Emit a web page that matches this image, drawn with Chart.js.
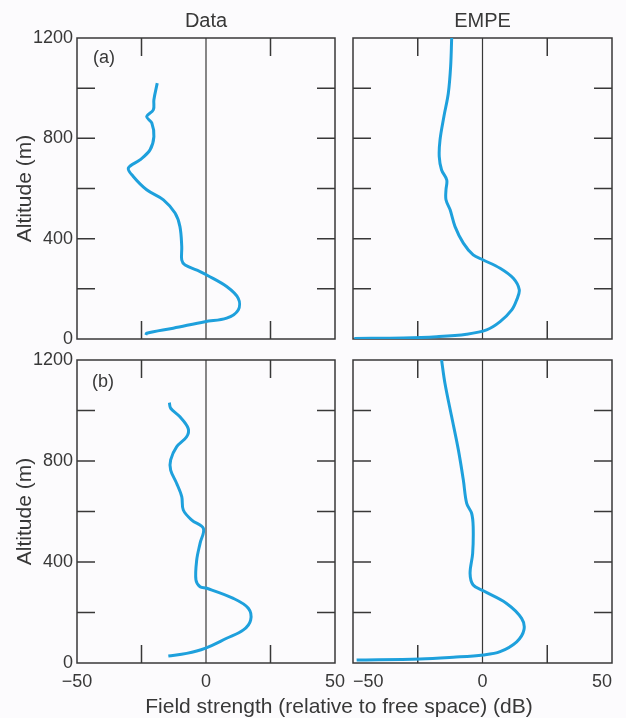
<!DOCTYPE html>
<html>
<head>
<meta charset="utf-8">
<script src="https://cdn.jsdelivr.net/npm/chart.js@4.4.1/dist/chart.umd.min.js"></script>
<style>
  html, body { margin: 0; padding: 0; background: #fcfbfd; }
  #wrap { position: relative; width: 626px; height: 718px; }
  #wrap canvas { position: absolute; left: 0; top: 0; }
</style>
</head>
<body>
<div id="wrap">
  <canvas id="dataA" width="626" height="718"></canvas>
  <canvas id="empeA" width="626" height="718"></canvas>
  <canvas id="dataB" width="626" height="718"></canvas>
  <canvas id="empeB" width="626" height="718"></canvas>
</div>
<script>
// altitude (m) and field strength (dB rel. free space)
const altDataA   = [16, 23, 43, 69, 83, 116, 162, 209, 255, 269, 295, 315, 368, 448, 502, 555, 595, 648, 681, 714, 754, 807, 861, 887, 914, 954, 1020];
const fieldDataA = [-23.3, -23.0, -12.7, -0.4, 8.0, 12.5, 12.5, 8.0, 0.3, -2.3, -8.1, -9.4, -9.4, -10.1, -12.0, -16.5, -23.0, -28.2, -30.1, -25.6, -21.7, -20.2, -21.0, -23.0, -20.4, -20.2, -18.9];

const altEmpeA   = [2, 4, 9, 19, 36, 69, 116, 156, 196, 242, 282, 315, 335, 382, 448, 515, 555, 595, 634, 674, 727, 794, 887, 980, 1087, 1200];
const fieldEmpeA = [-49.5, -30.6, -17.7, -6.1, 1.6, 6.8, 11.3, 13.2, 14.2, 11.9, 6.8, 0.3, -3.6, -7.4, -10.6, -12.5, -14.1, -14.1, -13.8, -15.8, -16.7, -16.4, -14.9, -13.2, -12.3, -11.9];

const altDataB   = [28, 38, 58, 98, 131, 170, 217, 256, 296, 302, 329, 408, 474, 533, 566, 606, 659, 712, 764, 804, 856, 896, 929, 975, 1009, 1031];
const fieldDataB = [-14.6, -7.5, -0.4, 8.0, 14.5, 17.3, 16.4, 10.6, 0.3, -2.3, -3.9, -3.6, -2.3, -1.0, -5.5, -8.8, -9.4, -11.4, -13.7, -13.7, -11.4, -7.5, -6.9, -10.1, -13.7, -14.2];

const altEmpeB   = [12, 16, 23, 32, 45, 84, 131, 177, 236, 286, 309, 355, 434, 540, 593, 632, 725, 843, 975, 1108, 1200];
const fieldEmpeB = [-48.6, -24.1, -11.3, 0.3, 6.8, 13.2, 16.0, 15.1, 9.3, 0.3, -3.6, -4.8, -3.8, -3.6, -4.2, -6.1, -7.4, -9.3, -11.9, -14.5, -15.8];

// inner tick marks
const minorX = [-25, 25];
const minorY = [200, 400, 600, 800, 1000];

const ink = '#383838';
const blue = '#1ea0dc';
const fontFamily = '"Liberation Sans", Arial, sans-serif';

// box, zero line, inward ticks and free text
const frame = {
  id: 'frame',
  beforeDatasetsDraw(chart) {
    const { ctx, chartArea: a, scales: { x, y } } = chart;
    ctx.save();
    ctx.strokeStyle = ink;
    ctx.lineWidth = 1.5;
    ctx.strokeRect(a.left, a.top, a.right - a.left, a.bottom - a.top);
    ctx.beginPath();
    minorX.forEach(v => {
      const px = x.getPixelForValue(v);
      ctx.moveTo(px, a.top); ctx.lineTo(px, a.top + 18);
      ctx.moveTo(px, a.bottom); ctx.lineTo(px, a.bottom - 18);
    });
    minorY.forEach(v => {
      const py = y.getPixelForValue(v);
      ctx.moveTo(a.left, py); ctx.lineTo(a.left + 18, py);
      ctx.moveTo(a.right, py); ctx.lineTo(a.right - 18, py);
    });
    ctx.stroke();
    ctx.lineWidth = 1.2;
    const x0 = x.getPixelForValue(0);
    ctx.beginPath();
    ctx.moveTo(x0, a.top); ctx.lineTo(x0, a.bottom);
    ctx.stroke();
    ctx.restore();
  },
  afterDraw(chart, args, opts) {
    const { ctx, chartArea: a } = chart;
    ctx.save();
    ctx.fillStyle = ink;
    ctx.textBaseline = 'alphabetic';
    (opts.texts || []).forEach(t => {
      ctx.font = t.size + 'px ' + fontFamily;
      ctx.textAlign = t.align;
      ctx.fillText(t.text, t.x(a), t.y(a));
    });
    ctx.restore();
  }
};

function points(xs, ys) {
  return xs.map((v, i) => ({ x: v, y: ys[i] }));
}

function makePanel(id, field, alt, o) {
  new Chart(document.getElementById(id), {
    type: 'scatter',
    data: {
      datasets: [{
        data: points(field, alt),
        showLine: true,
        borderColor: blue,
        borderWidth: 3,
        pointRadius: 0,
        tension: 0.35
      }]
    },
    options: {
      responsive: false,
      animation: false,
      events: [],
      layout: { padding: o.padding },
      plugins: {
        legend: { display: false },
        tooltip: { enabled: false },
        frame: { texts: o.texts }
      },
      scales: {
        x: {
          type: 'linear',
          min: -50, max: 50,
          display: o.showX,
          grid: { display: false, drawTicks: false },
          border: { display: false },
          ticks: {
            stepSize: 50,
            padding: 8,
            align: o.xAlign,
            color: ink,
            font: { size: 18, family: fontFamily },
            callback: v => (v < 0 ? '\u2212' + Math.abs(v) : String(v))
          },
          afterFit: s => { if (o.showX) s.height = 30; }
        },
        y: {
          type: 'linear',
          min: 0, max: 1200,
          display: o.showY,
          grid: { display: false, drawTicks: false },
          border: { display: false },
          ticks: {
            stepSize: 400,
            padding: 4,
            color: ink,
            font: { size: 18, family: fontFamily },
            callback: v => String(v)
          },
          title: {
            display: true,
            text: 'Altitude (m)',
            color: ink,
            font: { size: 21, family: fontFamily },
            padding: { top: 13, bottom: 0 }
          },
          afterFit: s => { if (o.showY) s.width = 77; }
        }
      }
    },
    plugins: [frame]
  });
}

const midX = a => (a.left + a.right) / 2;

makePanel('dataA', fieldDataA, altDataA, {
  padding: { left: 0, top: 38, right: 291, bottom: 379 },
  showX: false, showY: true, xAlign: 'center',
  texts: [
    { text: 'Data', size: 20, align: 'center', x: midX, y: a => a.top - 11 },
    { text: '(a)', size: 18, align: 'left', x: a => a.left + 16, y: a => a.top + 25 }
  ]
});

makePanel('empeA', fieldEmpeA, altEmpeA, {
  padding: { left: 353, top: 38, right: 14, bottom: 379 },
  showX: false, showY: false, xAlign: 'center',
  texts: [
    { text: 'EMPE', size: 20, align: 'center', x: midX, y: a => a.top - 11 }
  ]
});

makePanel('dataB', fieldDataB, altDataB, {
  padding: { left: 0, top: 360, right: 291, bottom: 25 },
  showX: true, showY: true, xAlign: 'center',
  texts: [
    { text: '(b)', size: 18, align: 'left', x: a => a.left + 15, y: a => a.top + 27 },
    { text: 'Field strength (relative to free space) (dB)', size: 21, align: 'center',
      x: a => a.right + 4, y: a => a.bottom + 50 }
  ]
});

makePanel('empeB', fieldEmpeB, altEmpeB, {
  padding: { left: 353, top: 360, right: 14, bottom: 25 },
  showX: true, showY: false, xAlign: 'inner',
  texts: []
});
</script>
</body>
</html>
